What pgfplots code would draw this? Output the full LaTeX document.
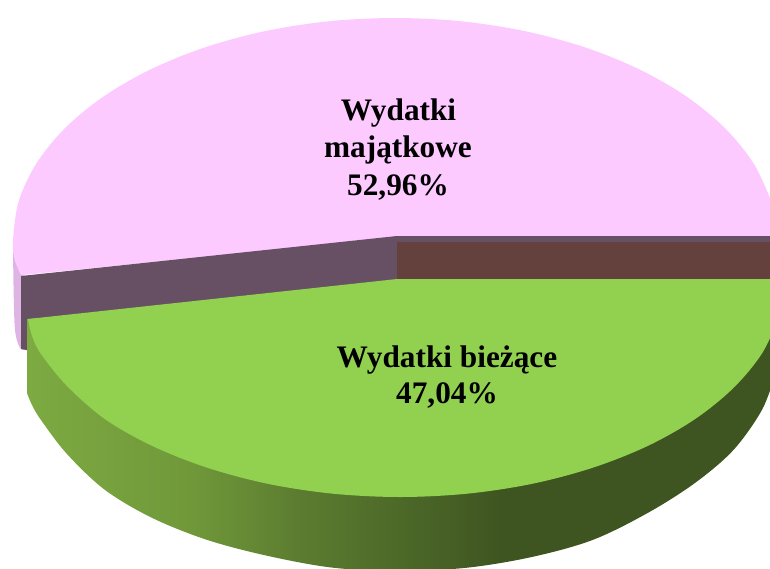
\documentclass[border=0pt]{standalone}
\usepackage{fontspec}
\setmainfont{Liberation Serif}
\usepackage{pgfplots}
\pgfplotsset{compat=1.18}
\definecolor{pinktop}{RGB}{253,202,255}
\definecolor{pinkside}{RGB}{222,180,228}
\definecolor{wallpurple}{RGB}{103,80,100}
\definecolor{wallbrown}{RGB}{101,65,62}
\definecolor{greentop}{RGB}{146,208,80}
\definecolor{gA}{RGB}{125,170,65}
\definecolor{gB}{RGB}{112,152,58}
\definecolor{gC}{RGB}{92,125,48}
\definecolor{gD}{RGB}{76,105,40}
\definecolor{gE}{RGB}{62,84,33}
\pgfdeclarehorizontalshading{greenside}{100bp}{color(0bp)=(gA); color(25bp)=(gA); color(36bp)=(gB); color(43bp)=(gC); color(50bp)=(gD); color(57bp)=(gE); color(100bp)=(gE)}
\begin{document}
\begin{tikzpicture}
\begin{axis}[
  scale only axis, width=770pt, height=568pt,
  xmin=0, xmax=770, ymin=0, ymax=568, y dir=reverse,
  hide axis, clip=true]
% background
\addplot[draw=none, fill=white, forget plot] coordinates {(0,0)(770,0)(770,568)(0,568)};
% pink slice: outer side
\addplot[draw=none, fill=pinkside, forget plot, smooth, tension=0.5] coordinates {(13,240)(13.5,285)(15,330)(20,348)(27,350)};
\addplot[draw=none, fill=pinkside, forget plot] coordinates {(13,240)(20,300)(27,350)(27,276)(21,275)};
% pink slice: top
\addplot[draw=none, fill=pinktop, forget plot] coordinates {(21,275)(397,236)(772,236)(771.3,201.4)(395,18)};
\addplot[draw=none, fill=pinktop, smooth, tension=0.55, forget plot] coordinates {
 (21,275)(14.5,259)(13,240)(18.7,201.4)(36,164.1)(64.2,129)(102.4,97.3)(149.4,70)(204,47.7)(264.4,31.3)(328.5,21.3)(395,18)(461.5,21.3)(525.6,31.3)(586,47.7)(640.6,70)(687.6,97.3)(725.8,129)(754,164.1)(771.3,201.4)};
% cut walls
\addplot[draw=none, fill=wallpurple, forget plot] coordinates {(397,236)(21,276)(21,349)(27,350)(30,330)(397,285)};
\addplot[draw=none, fill=wallpurple, forget plot] coordinates {(397,236)(770,236)(770,243)(397,243)};
\addplot[draw=none, fill=wallbrown, forget plot] coordinates {(397,242)(770,242)(770,282)(397,282)};
% green slice: outer side
\addplot[draw=none, shade, shading=greenside, forget plot] coordinates {(27,319)(27,393)(397,450)(775,375)(775,330)(397,300)};
\addplot[draw=none, shade, shading=greenside, forget plot, smooth, tension=0.55] coordinates {
 (27,393)(32,405)(41,420)(67,454)(105.1,490)(152.4,518)(207.5,540)(268.3,556)(333,567.7)(400,571)(467,567.7)(531.7,557)(592.5,540)(647.6,513)(694.9,483)(733.4,450)(761.9,410)(775,375)};
% green slice: top
\addplot[draw=none, fill=greentop, forget plot] coordinates {(28,319)(397,279)(780,279)(779.2,316.9)(400,400)};
\addplot[draw=none, fill=greentop, forget plot, smooth, tension=0.55] coordinates {
 (28,319)(32,336)(41,354)(67,386)(105.1,419.2)(152.4,446)(207.5,467.8)(268.3,483.9)(333,493.7)(400,497)(467,493.7)(531.7,483.9)(592.5,467.8)(647.6,446)(694.9,419.2)(733.4,388)(761.9,353.6)(779.2,316.9)};
% labels
\node[anchor=base, font=\fontsize{31.3}{31.3}\selectfont\bfseries] at (axis cs:398.5,120) {Wydatki};
\node[anchor=base, font=\fontsize{31.3}{31.3}\selectfont\bfseries] at (axis cs:398,157) {majątkowe};
\node[anchor=base, font=\fontsize{31.3}{31.3}\selectfont\bfseries] at (axis cs:398,195) {52,96\%};
\node[anchor=base, font=\fontsize{31.3}{31.3}\selectfont\bfseries] at (axis cs:447,367) {Wydatki bieżące};
\node[anchor=base, font=\fontsize{31.3}{31.3}\selectfont\bfseries] at (axis cs:447,403) {47,04\%};
\end{axis}
\end{tikzpicture}
\end{document}
